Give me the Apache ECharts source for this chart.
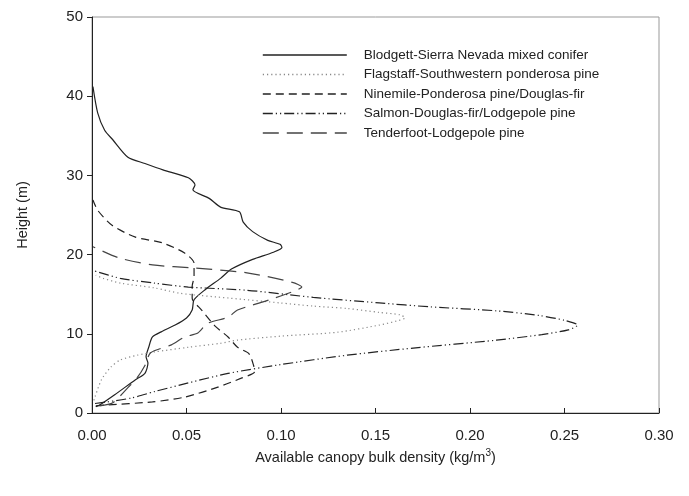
<!DOCTYPE html>
<html>
<head>
    <meta charset="UTF-8">
    <title>Canopy bulk density profiles</title>
    <script src="https://cdn.jsdelivr.net/npm/echarts@6/dist/echarts.min.js"></script>
</head>
<body style="margin:0;background:#fff;">
    <div id="main" style="width:689px;height:496px;"></div>
    <script>
    // [density kg/m3, height m] pairs, read bottom to top
    var blodgett = [[0.002,0.8],[0.004,1.0],[0.012,2.3],[0.023,4.2],[0.028,5.0],[0.0296,6.3],[0.0286,7.1],[0.030,8.3],
        [0.032,9.6],[0.037,10.3],[0.044,11.1],[0.050,12.0],[0.053,13.0],[0.054,14.3],[0.060,15.6],[0.068,17.0],
        [0.074,18.2],[0.085,19.4],[0.096,20.3],[0.1005,20.9],[0.0995,21.3],[0.093,21.8],[0.085,22.9],[0.080,24.1],
        [0.078,25.4],[0.068,26.0],[0.062,27.1],[0.0534,28.2],[0.0545,28.8],[0.051,29.7],[0.0375,30.7],[0.028,31.5],
        [0.019,32.3],[0.011,34.5],[0.0067,35.7],[0.003,37.9],[0.0005,41.2]];
    var flagstaff = [[0.001,1.6],[0.005,4.2],[0.010,5.8],[0.015,6.7],[0.024,7.3],[0.033,7.7],[0.051,8.3],[0.068,8.8],
        [0.077,9.2],[0.0995,9.7],[0.130,10.2],[0.152,11.1],[0.161,11.6],[0.1656,12.0],[0.163,12.4],[0.152,12.7],
        [0.135,13.2],[0.117,13.5],[0.0995,13.9],[0.073,14.5],[0.047,15.1],[0.033,15.8],[0.015,16.4],[0.006,17.0],[0.002,17.4]];
    var ninemile = [[0.002,0.9],[0.007,1.0],[0.032,1.4],[0.049,2.0],[0.067,3.3],[0.079,4.4],[0.086,5.2],[0.0855,6.0],
        [0.083,7.5],[0.077,8.3],[0.072,9.6],[0.065,11.0],[0.058,13.0],[0.053,14.5],[0.053,16.0],[0.054,17.2],
        [0.054,18.9],[0.049,20.2],[0.037,21.5],[0.023,22.2],[0.0106,23.7],[0.003,25.6],[0.0005,26.9]];
    var salmon = [[0.0016,1.2],[0.008,1.4],[0.021,1.9],[0.033,2.7],[0.051,3.8],[0.072,5.0],[0.0995,6.1],[0.135,7.3],
        [0.170,8.2],[0.214,9.2],[0.238,9.9],[0.252,10.5],[0.257,11.1],[0.250,11.7],[0.237,12.3],[0.214,12.9],
        [0.179,13.4],[0.152,13.9],[0.117,14.6],[0.082,15.5],[0.051,15.9],[0.033,16.4],[0.015,17.0],[0.0005,18.0]];
    var tenderfoot = [[0.004,0.9],[0.011,1.3],[0.019,3.2],[0.024,4.5],[0.028,6.0],[0.031,7.6],[0.042,8.6],[0.049,9.6],
        [0.056,10.1],[0.061,11.3],[0.072,12.1],[0.077,13.0],[0.094,14.3],[0.106,15.3],[0.111,15.9],[0.106,16.5],
        [0.082,17.7],[0.0545,18.3],[0.032,18.7],[0.014,19.6],[0.0005,21.0]];

    var names = ['Blodgett-Sierra Nevada mixed conifer', 'Flagstaff-Southwestern ponderosa pine',
        'Ninemile-Ponderosa pine/Douglas-fir', 'Salmon-Douglas-fir/Lodgepole pine', 'Tenderfoot-Lodgepole pine'];

    var font = 'Liberation Sans, Arial, sans-serif';

    function profile(name, data, color, dash) {
        return {
            name: name,
            type: 'line',
            data: data,
            symbol: 'none',
            smooth: 0.25,
            lineStyle: {color: color, width: 1.2, type: dash},
            itemStyle: {color: color}
        };
    }

    var myChart = echarts.init(document.getElementById('main'));

    var option = {
        animation: false,
        backgroundColor: '#fff',
        grid: {left: 92, right: 30, top: 17, bottom: 83, show: true, borderColor: '#999', borderWidth: 1},
        legend: {
            orient: 'vertical',
            left: 257,
            top: 43,
            itemWidth: 84,
            itemHeight: 14,
            itemGap: 5.5,
            selectedMode: false,
            itemStyle: {opacity: 0},
            lineStyle: {width: 1.6},
            textStyle: {fontFamily: font, fontSize: 13.5, color: '#222', padding: [0, 0, 0, 12]},
            data: names
        },
        xAxis: {
            type: 'value',
            min: 0, max: 0.30, interval: 0.05,
            name: '{a|Available canopy bulk density (kg/m}{s|3}{a|)}',
            nameLocation: 'middle',
            nameGap: 35,
            nameTextStyle: {
                rich: {
                    a: {fontFamily: font, fontSize: 14.5, color: '#222'},
                    s: {fontFamily: font, fontSize: 10, color: '#222', padding: [0, 0, 9, 0]}
                }
            },
            axisLine: {lineStyle: {color: '#222', width: 1}},
            axisTick: {inside: true, length: 5, lineStyle: {color: '#222'}},
            axisLabel: {fontFamily: font, fontSize: 15, color: '#222', margin: 15,
                formatter: function (v) { return v.toFixed(2); }},
            splitLine: {show: false}
        },
        yAxis: {
            type: 'value',
            min: 0, max: 50, interval: 10,
            name: 'Height (m)',
            nameLocation: 'middle',
            nameGap: 62,
            nameTextStyle: {fontFamily: font, fontSize: 14.5, color: '#222'},
            axisLine: {lineStyle: {color: '#222', width: 1}},
            axisTick: {length: 5, lineStyle: {color: '#222'}},
            axisLabel: {fontFamily: font, fontSize: 15, color: '#222', margin: 9},
            splitLine: {show: false}
        },
        series: [
            profile(names[0], blodgett, '#222', 'solid'),
            profile(names[1], flagstaff, '#888', [1.2, 3]),
            profile(names[2], ninemile, '#222', [8, 5]),
            profile(names[3], salmon, '#222', [10, 3, 1.2, 3, 1.2, 3]),
            profile(names[4], tenderfoot, '#444', [16, 8])
        ]
    };

    myChart.setOption(option);
    </script>
</body>
</html>
